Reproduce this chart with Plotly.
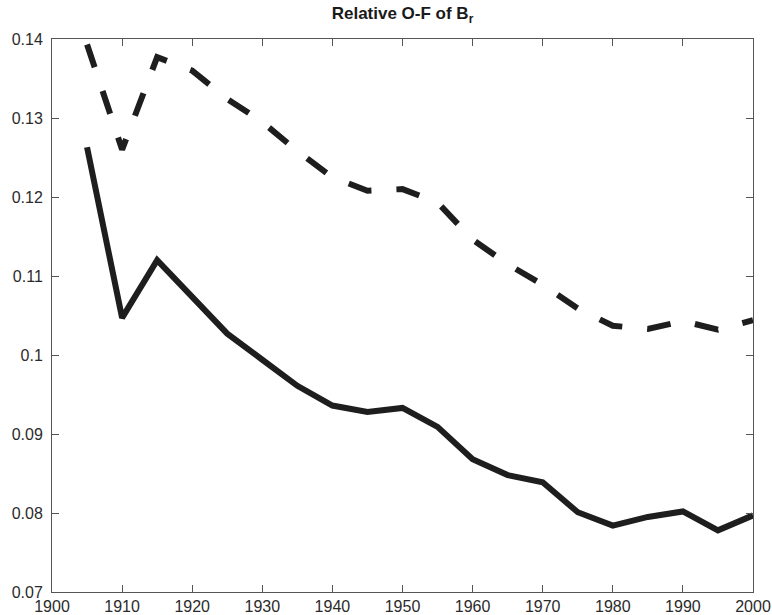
import plotly.graph_objects as go

years = [1905, 1910, 1915, 1920, 1925, 1930, 1935, 1940, 1945, 1950,
         1955, 1960, 1965, 1970, 1975, 1980, 1985, 1990, 1995, 2000]
solid_vals = [0.1263, 0.1047, 0.1120, 0.1073, 0.1027, 0.0994, 0.0961, 0.0936, 0.0928, 0.0933,
              0.0909, 0.0868, 0.0848, 0.0839, 0.0801, 0.0784, 0.0795, 0.0802, 0.0778, 0.0797]
dashed_vals = [0.1393, 0.1260, 0.1377, 0.1360, 0.1324, 0.1295, 0.1258, 0.1225, 0.1208, 0.1210,
               0.1193, 0.1146, 0.1115, 0.1089, 0.1059, 0.1037, 0.1033, 0.1043, 0.1032, 0.1044]

x_ticks = [1900, 1910, 1920, 1930, 1940, 1950, 1960, 1970, 1980, 1990, 2000]
y_ticks = [0.07, 0.08, 0.09, 0.10, 0.11, 0.12, 0.13, 0.14]
y_ticktext = ["0.07", "0.08", "0.09", "0.1", "0.11", "0.12", "0.13", "0.14"]

line_color = "#1e1e1e"
axis_color = "#555555"
font_family = "Liberation Sans, Arial, Helvetica, sans-serif"

fig = go.Figure()
fig.add_trace(go.Scatter(x=years, y=dashed_vals, mode="lines",
                         line=dict(color=line_color, width=6, dash="24px,25px"),
                         showlegend=False))
fig.add_trace(go.Scatter(x=years, y=solid_vals, mode="lines",
                         line=dict(color=line_color, width=6),
                         showlegend=False))

fig.update_layout(
    width=772, height=615,
    margin=dict(l=52, r=19, t=39, b=23, autoexpand=False),
    paper_bgcolor="white", plot_bgcolor="white",
    font=dict(family=font_family, size=16, color="#2b2b2b"),
    title=dict(text="<b>Relative O-F of B<sub>r</sub></b>",
               x=402.5 / 772, xanchor="center", y=1 - 13 / 615, yanchor="middle",
               font=dict(family=font_family, size=17, color="#1a1a1a")),
)
fig.update_xaxes(range=[1900, 2000], tickvals=x_ticks, ticks="inside", ticklen=7,
                 tickcolor=axis_color, showline=True, linecolor=axis_color, linewidth=1,
                 mirror="ticks", showgrid=False, zeroline=False, automargin=False,
                 ticklabelstandoff=0)
fig.update_yaxes(range=[0.07, 0.14], tickvals=y_ticks, ticktext=y_ticktext,
                 ticks="inside", ticklen=7,
                 tickcolor=axis_color, showline=True, linecolor=axis_color, linewidth=1,
                 mirror="ticks", showgrid=False, zeroline=False, automargin=False,
                 ticklabelstandoff=5)

fig.write_html("out.html")
